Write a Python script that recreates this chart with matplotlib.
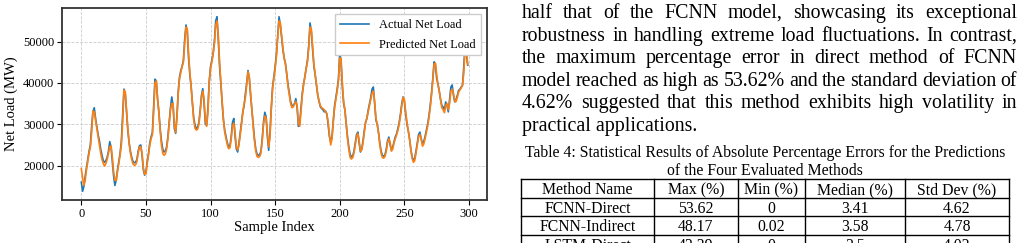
import matplotlib
matplotlib.use('Agg')
import matplotlib.pyplot as plt
from matplotlib.transforms import IdentityTransform
from matplotlib.lines import Line2D
import numpy as np

plt.rcParams['font.family'] = ['Liberation Serif', 'DejaVu Serif']

# net load, thousand MW
actual_k = [
    16.0, 13.8, 15.0, 17.5, 19.5, 21.5, 23.5, 25.0, 29.5, 33.0,
    34.0, 31.5, 29.5, 27.5, 26.0, 24.0, 22.5, 21.2, 20.8, 21.2,
    22.0, 23.5, 25.8, 24.5, 21.0, 17.5, 15.2, 16.5, 19.0, 21.0,
    23.0, 26.0, 32.0, 38.5, 37.5, 33.0, 28.5, 25.5, 23.5, 22.0,
    21.0, 20.7, 20.8, 21.5, 23.5, 24.8, 25.0, 22.5, 19.0, 17.7,
    18.5, 21.0, 23.0, 25.5, 27.0, 28.0, 34.5, 40.9, 40.5, 36.0,
    33.0, 29.0, 26.0, 24.0, 23.3, 23.5, 24.5, 27.0, 30.5, 34.0,
    36.6, 34.5, 29.0, 27.8, 32.0, 38.0, 41.4, 43.0, 44.0, 45.5,
    50.5, 54.0, 52.5, 46.0, 42.0, 39.0, 35.0, 31.5, 29.8, 29.0,
    29.2, 30.5, 33.5, 37.0, 38.6, 35.0, 30.0, 29.8, 34.0, 40.5,
    43.9, 45.5, 47.1, 50.0, 55.0, 56.0, 50.5, 44.0, 39.8, 35.0,
    31.0, 28.5, 27.0, 25.5, 24.5, 24.7, 27.0, 30.5, 31.4, 27.0,
    24.0, 23.3, 25.5, 28.0, 30.5, 33.0, 34.5, 37.5, 40.0, 43.0,
    41.0, 37.0, 33.5, 30.0, 26.5, 24.0, 22.8, 22.5, 22.6, 23.5,
    26.5, 30.5, 32.9, 31.8, 27.0, 23.7, 28.0, 34.0, 39.0, 41.5,
    44.0, 47.0, 51.5, 56.0, 54.0, 51.0, 48.0, 46.0, 44.7, 42.0,
    39.5, 37.5, 35.5, 34.5, 34.5, 35.0, 36.2, 34.0, 29.5, 30.0,
    34.0, 37.5, 39.8, 41.5, 43.5, 45.5, 49.0, 54.5, 52.5, 48.0,
    44.0, 41.9, 39.5, 37.0, 35.5, 34.2, 33.8, 33.5, 33.0, 33.2,
    32.5, 30.0, 27.0, 25.7, 27.0, 31.0, 34.5, 36.5, 38.5, 41.0,
    47.5, 45.0, 39.0, 35.0, 33.4, 30.0, 27.0, 24.5, 22.8, 22.1,
    22.3, 23.5, 25.5, 27.5, 28.1, 25.5, 23.3, 24.0, 26.0, 28.5,
    30.5, 31.4, 33.4, 35.0, 36.5, 38.5, 39.0, 35.0, 31.0, 30.0,
    28.0, 25.5, 23.5, 22.5, 22.3, 22.6, 24.0, 26.0, 26.9, 25.0,
    23.7, 24.5, 25.8, 27.0, 27.7, 29.0, 30.5, 32.5, 35.0, 36.6,
    35.5, 32.5, 30.0, 28.5, 26.5, 24.0, 22.0, 21.3, 21.8, 23.5,
    25.5, 27.5, 28.1, 26.5, 25.3, 25.8, 27.0, 28.5, 30.0, 32.0,
    34.5, 37.5, 41.0, 45.1, 44.5, 41.0, 39.8, 38.0, 36.0, 34.5,
    34.2, 33.5, 35.4, 34.5, 33.0, 36.0, 39.0, 39.5, 37.0, 35.4,
    36.0, 37.0, 38.2, 38.5, 39.0, 39.4, 44.0, 49.5, 47.0, 44.3,
]

predicted_k = [
    19.3, 17.0, 15.2, 16.5, 19.0, 21.0, 23.0, 24.5, 28.0, 33.2,
    33.0, 31.0, 29.0, 27.0, 25.0, 23.0, 21.5, 20.5, 19.9, 20.5,
    21.5, 23.0, 24.5, 24.8, 22.0, 18.5, 16.5, 16.4, 18.5, 20.5,
    22.5, 25.0, 30.5, 38.3, 37.8, 33.5, 29.0, 25.5, 23.0, 21.5,
    20.4, 20.1, 20.2, 21.0, 23.0, 24.5, 24.6, 23.0, 19.5, 17.9,
    18.0, 20.5, 22.5, 25.0, 26.5, 27.5, 33.0, 40.0, 40.5, 36.5,
    33.0, 28.5, 25.0, 23.0, 22.5, 22.8, 24.0, 26.5, 30.0, 33.5,
    35.0, 35.0, 30.0, 28.0, 31.5, 37.5, 41.0, 42.5, 44.0, 45.0,
    49.5, 53.5, 53.0, 47.0, 42.5, 39.0, 35.0, 31.0, 29.0, 28.6,
    28.8, 30.0, 33.0, 36.5, 38.0, 36.0, 31.0, 29.5, 33.0, 40.0,
    43.5, 45.0, 47.0, 49.5, 54.0, 55.0, 51.5, 45.0, 40.0, 35.5,
    31.0, 28.0, 26.5, 25.0, 24.1, 24.3, 26.5, 29.5, 30.3, 28.0,
    24.5, 23.8, 25.0, 27.5, 30.0, 33.0, 35.0, 36.5, 39.5, 42.7,
    41.5, 37.5, 33.5, 29.5, 26.0, 23.5, 22.2, 22.0, 22.2, 23.0,
    26.0, 30.0, 32.0, 31.5, 28.0, 24.5, 27.0, 33.5, 38.5, 41.0,
    43.5, 46.5, 51.0, 55.0, 54.5, 51.5, 48.5, 46.0, 44.5, 42.0,
    39.0, 37.0, 35.0, 34.0, 34.2, 35.0, 35.5, 34.5, 30.5, 29.5,
    33.0, 37.0, 39.5, 41.5, 43.5, 45.0, 48.5, 53.5, 53.0, 49.0,
    44.5, 42.0, 39.5, 37.0, 35.5, 34.5, 34.0, 33.8, 33.5, 33.0,
    32.5, 30.5, 27.5, 25.0, 26.5, 30.5, 34.0, 36.0, 38.0, 40.5,
    46.0, 46.0, 40.0, 35.5, 33.5, 30.0, 26.5, 24.0, 22.0, 21.6,
    21.9, 23.0, 25.0, 27.0, 27.8, 26.0, 23.5, 23.8, 25.5, 28.0,
    30.5, 31.5, 33.0, 34.5, 36.0, 37.5, 38.0, 35.5, 31.5, 30.0,
    28.0, 25.0, 23.0, 22.0, 21.8, 22.2, 23.5, 25.5, 26.5, 25.5,
    23.5, 24.0, 25.5, 26.5, 27.5, 28.5, 30.0, 32.0, 34.5, 36.5,
    36.0, 33.0, 30.5, 28.5, 26.5, 24.0, 21.8, 20.8, 21.2, 23.0,
    25.0, 27.0, 27.5, 26.5, 24.7, 25.2, 26.5, 28.0, 29.5, 31.5,
    34.0, 37.0, 40.5, 44.5, 44.8, 42.0, 39.5, 38.0, 36.0, 34.0,
    33.5, 32.8, 34.5, 35.0, 33.5, 35.0, 38.0, 38.5, 37.5, 35.5,
    35.5, 36.5, 37.8, 38.3, 38.8, 39.5, 42.5, 48.5, 48.0, 44.5,
]

para_lines = [
    "half that of the FCNN model, showcasing its exceptional",
    "robustness in handling extreme load fluctuations. In contrast,",
    "the maximum percentage error in direct method of FCNN",
    "model reached as high as 53.62% and the standard deviation of",
    "4.62% suggested that this method exhibits high volatility in",
    "practical applications.",
]
caption = ["Table 4: Statistical Results of Absolute Percentage Errors for the Predictions",
           "of the Four Evaluated Methods"]
col_names = ["Method Name", "Max (%)", "Min (%)", "Median (%)", "Std Dev (%)"]
methods = ["FCNN-Direct", "FCNN-Indirect", "LSTM-Direct"]
max_err = ["53.62", "48.17", "42.39"]
min_err = ["0", "0.02", "0"]
median_err = ["3.41", "3.58", "2.5"]
std_err = ["4.62", "4.78", "4.02"]

W, H = 1027, 243
fig = plt.figure(figsize=(W / 100, H / 100), dpi=100)

# ---- chart ----
ax = fig.add_axes([62 / W, 43 / H, 425 / W, 192 / H])
idx = np.arange(len(actual_k))
ax.plot(idx, np.array(actual_k) * 1000, color='#1f77b4', lw=1.2, label='Actual Net Load')
ax.plot(idx, np.array(predicted_k) * 1000, color='#ff7f0e', lw=1.2, label='Predicted Net Load')
ax.set_xticks([0, 50, 100, 150, 200, 250, 300])
ax.set_yticks([20000, 30000, 40000, 50000])
ax.grid(True, ls='--', lw=0.6, color='#cccccc')
ax.set_xlabel('Sample Index', fontsize=10.5, labelpad=1)
ax.set_ylabel('Net Load (MW)', fontsize=10.5, labelpad=4)
ax.tick_params(labelsize=9, length=3.5, width=0.8, pad=2)
for s in ax.spines.values():
    s.set_linewidth(1.3)
    s.set_color('#333333')
leg = ax.legend(loc='upper right', fontsize=8.9, handlelength=2.4, borderaxespad=0.5,
                labelspacing=0.6, fancybox=False, edgecolor='#cccccc', framealpha=1)

# ---- justified paragraph ----
pix = IdentityTransform()
renderer = fig.canvas.get_renderer()
x0, x1 = 522, 1017
fs = 14.3
for k, line in enumerate(para_lines):
    y = H - (18 + k * 22.6)
    if k == len(para_lines) - 1:
        fig.text(x0, y, line, fontsize=fs, transform=pix)
        continue
    words = line.split(' ')
    objs = [fig.text(0, y, w, fontsize=fs, transform=pix) for w in words]
    widths = [t.get_window_extent(renderer).width for t in objs]
    gap = (x1 - x0 - sum(widths)) / (len(words) - 1)
    xx = x0
    for t, w in zip(objs, widths):
        t.set_x(xx)
        xx += w + gap

# ---- table ----
cfs = 11.3
fig.text(765, H - 157, caption[0], fontsize=cfs, ha='center', transform=pix)
fig.text(765, H - 175, caption[1], fontsize=cfs, ha='center', transform=pix)
col_x = [521, 654, 738, 805, 905, 1009]
row_y = [179, 197.5, 216, 234.5, 253]
for yy in row_y:
    fig.add_artist(Line2D([col_x[0], col_x[-1]], [H - yy, H - yy], color='black', lw=1, transform=pix))
for xx in col_x:
    fig.add_artist(Line2D([xx, xx], [H - row_y[0], H - row_y[-1]], color='black', lw=1, transform=pix))
rows = [col_names] + [list(r) for r in zip(methods, max_err, min_err, median_err, std_err)]
for r, vals in enumerate(rows):
    yc = H - (row_y[r] + row_y[r + 1]) / 2
    for c, v in enumerate(vals):
        fig.text((col_x[c] + col_x[c + 1]) / 2, yc, v, fontsize=cfs, ha='center', va='center_baseline',
                 transform=pix)

fig.savefig('out.png', dpi=100)
